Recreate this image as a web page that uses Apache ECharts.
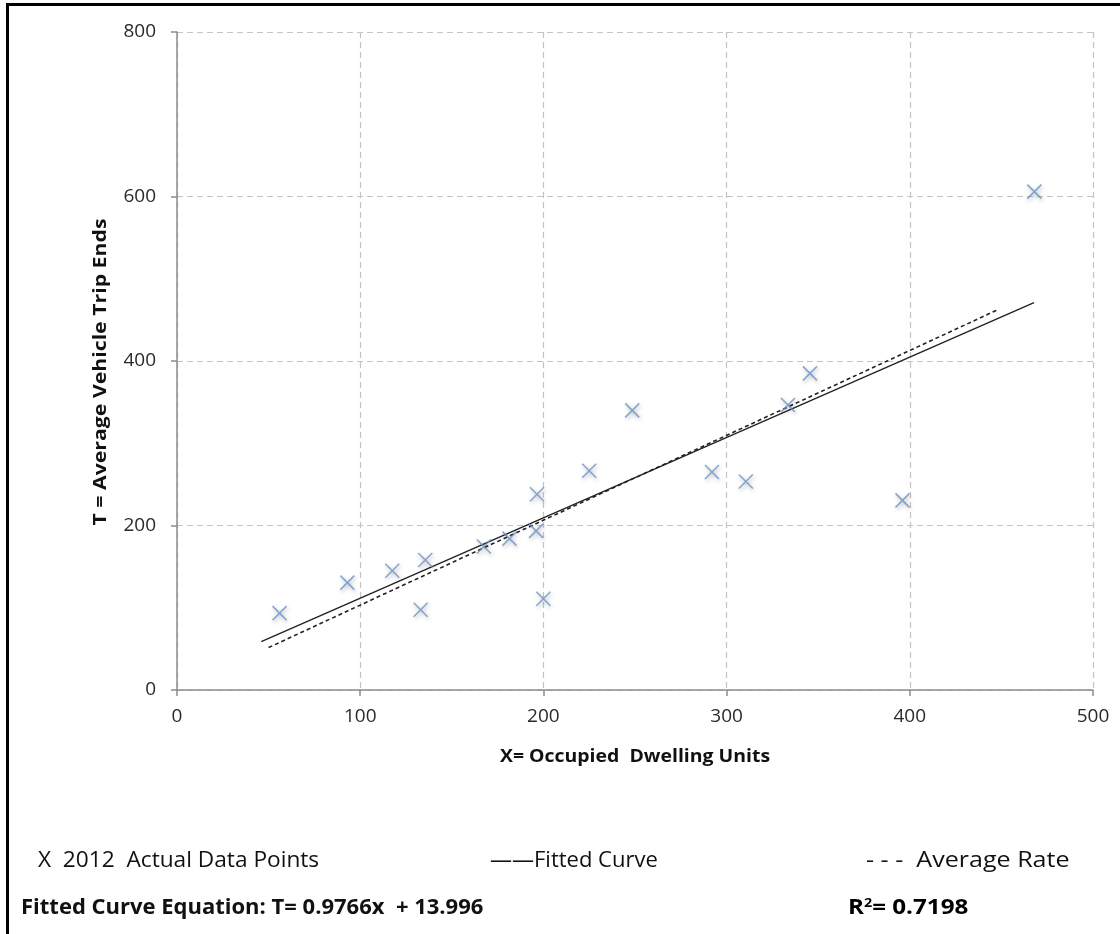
<!DOCTYPE html>
<html>
<head>
<meta charset="utf-8">
<title>Average Vehicle Trip Ends vs Occupied Dwelling Units</title>
<script src="https://cdn.jsdelivr.net/npm/echarts@6/dist/echarts.min.js"></script>
<style>
  html, body { margin: 0; padding: 0; background: #fff; }
  #chart { width: 1120px; height: 934px; }
</style>
</head>
<body>
<div id="chart"></div>
<script>
// Occupied dwelling units (x) and average vehicle trip ends (T) for each 2012 site
const dwellingUnits = [56, 93, 117.5, 135.5, 133, 167.5, 181.5, 196.5, 196, 200, 225, 248.5, 292, 310.5, 333.5, 345.5, 396, 468];
const tripEnds      = [93.5, 130.5, 145, 158, 97.5, 174.5, 184, 238, 193.5, 111, 266.5, 340, 265, 253.5, 346.5, 385, 230.5, 606];

// Fitted curve T = slope * x + intercept, drawn over its fitted range
const fitSlope = 0.9766;
const fitIntercept = 13.996;
const fitRange = [46, 467.8];

// Average rate line through the origin
const avgRate = 1.032;
const avgRange = [50, 448];

// Axis ticks
const xTicks = [0, 100, 200, 300, 400, 500];
const yTicks = [0, 200, 400, 600, 800];

const fitLine = fitRange.map(x => [x, fitSlope * x + fitIntercept]);
const avgLine = avgRange.map(x => [x, avgRate * x]);
const points = dwellingUnits.map((x, i) => [x, tripEnds[i]]);

const FONT = '"Open Sans", Lato, sans-serif';
const chart = echarts.init(document.getElementById('chart'), null, { renderer: 'canvas' });

chart.setOption({
  animation: false,
  backgroundColor: '#ffffff',
  grid: { left: 177, right: 27, top: 32, bottom: 244, containLabel: false },
  xAxis: {
    type: 'value',
    min: xTicks[0], max: xTicks[xTicks.length - 1], interval: 100,
    axisLine: { show: true, onZero: false, lineStyle: { color: '#8c8c8c', width: 1.5 } },
    axisTick: { show: true, length: 6, inside: false, lineStyle: { color: '#8c8c8c', width: 1.5 } },
    axisLabel: { margin: 17, color: '#2a2a2a', fontFamily: FONT, fontSize: 19 },
    splitLine: { show: true, lineStyle: { color: '#c4c4c4', type: [6, 4], width: 1.2 } }
  },
  yAxis: {
    type: 'value',
    min: yTicks[0], max: yTicks[yTicks.length - 1], interval: 200,
    axisLine: { show: true, onZero: false, lineStyle: { color: '#8c8c8c', width: 1.5 } },
    axisTick: { show: true, length: 6, inside: false, lineStyle: { color: '#8c8c8c', width: 1.5 } },
    axisLabel: { margin: 21, color: '#2a2a2a', fontFamily: FONT, fontSize: 19 },
    splitLine: { show: true, lineStyle: { color: '#c4c4c4', type: [6, 4], width: 1.2 } }
  },
  series: [
    {
      name: 'Average Rate',
      type: 'line',
      data: avgLine,
      symbol: 'none',
      lineStyle: { color: '#222', width: 1.6, type: [4, 3] },
      z: 2
    },
    {
      name: 'Fitted Curve',
      type: 'line',
      data: fitLine,
      symbol: 'none',
      lineStyle: { color: '#222', width: 1.4 },
      z: 3
    },
    {
      name: '2012 Actual Data Points',
      type: 'scatter',
      data: points,
      symbol: 'path://M0,0L10,10M10,0L0,10',
      symbolSize: 14,
      itemStyle: {
        color: 'rgba(0,0,0,0)',
        borderColor: '#6a93c8',
        borderWidth: 1.6,
        shadowBlur: 4,
        shadowColor: 'rgba(0,0,0,0.35)',
        shadowOffsetX: 1,
        shadowOffsetY: 2
      },
      z: 4
    }
  ],
  graphic: [
    // Frame edges along the top and left
    { type: 'rect', shape: { x: 6, y: 3, width: 1114, height: 3 }, style: { fill: '#000' }, silent: true },
    { type: 'rect', shape: { x: 6, y: 3, width: 3, height: 931 }, style: { fill: '#000' }, silent: true },
    {
      type: 'text', x: 101, y: 372, rotation: Math.PI / 2, scaleX: 1.25,
      style: { text: 'T = Average Vehicle Trip Ends', fontFamily: FONT, fontWeight: 'bold', fontSize: 17, fill: '#111', align: 'center', verticalAlign: 'middle' }
    },
    {
      type: 'text', x: 635, y: 757, scaleX: 1.08,
      style: { text: 'X= Occupied  Dwelling Units', fontFamily: FONT, fontWeight: 'bold', fontSize: 18, fill: '#111', align: 'center', verticalAlign: 'middle' }
    },
    {
      type: 'text', x: 38, y: 861, scaleX: 1.03,
      style: { text: 'X  2012  Actual Data Points', fontFamily: FONT, fontSize: 22, fill: '#111', align: 'left', verticalAlign: 'middle' }
    },
    {
      type: 'text', x: 490, y: 861,
      style: { text: '\u2014\u2014Fitted Curve', fontFamily: FONT, fontSize: 22, fill: '#111', align: 'left', verticalAlign: 'middle' }
    },
    {
      type: 'text', x: 866, y: 861, scaleX: 1.14,
      style: { text: '- - -  Average Rate', fontFamily: FONT, fontSize: 22, fill: '#111', align: 'left', verticalAlign: 'middle' }
    },
    {
      type: 'text', x: 21, y: 908,
      style: { text: 'Fitted Curve Equation: T= 0.9766x  + 13.996', fontFamily: FONT, fontWeight: 'bold', fontSize: 22, fill: '#111', align: 'left', verticalAlign: 'middle' }
    },
    {
      type: 'text', x: 848, y: 908, scaleX: 1.1,
      style: {
        text: '{b|R}{sup|2}{b|= 0.7198}',
        fontFamily: FONT, align: 'left', verticalAlign: 'middle',
        rich: {
          b: { fontFamily: FONT, fontWeight: 'bold', fontSize: 22, color: '#111' },
          sup: { fontFamily: FONT, fontWeight: 'bold', fontSize: 13, color: '#111', verticalAlign: 'top', padding: [0, 0, 9, 0] }
        }
      }
    }
  ]
});
</script>
</body>
</html>
